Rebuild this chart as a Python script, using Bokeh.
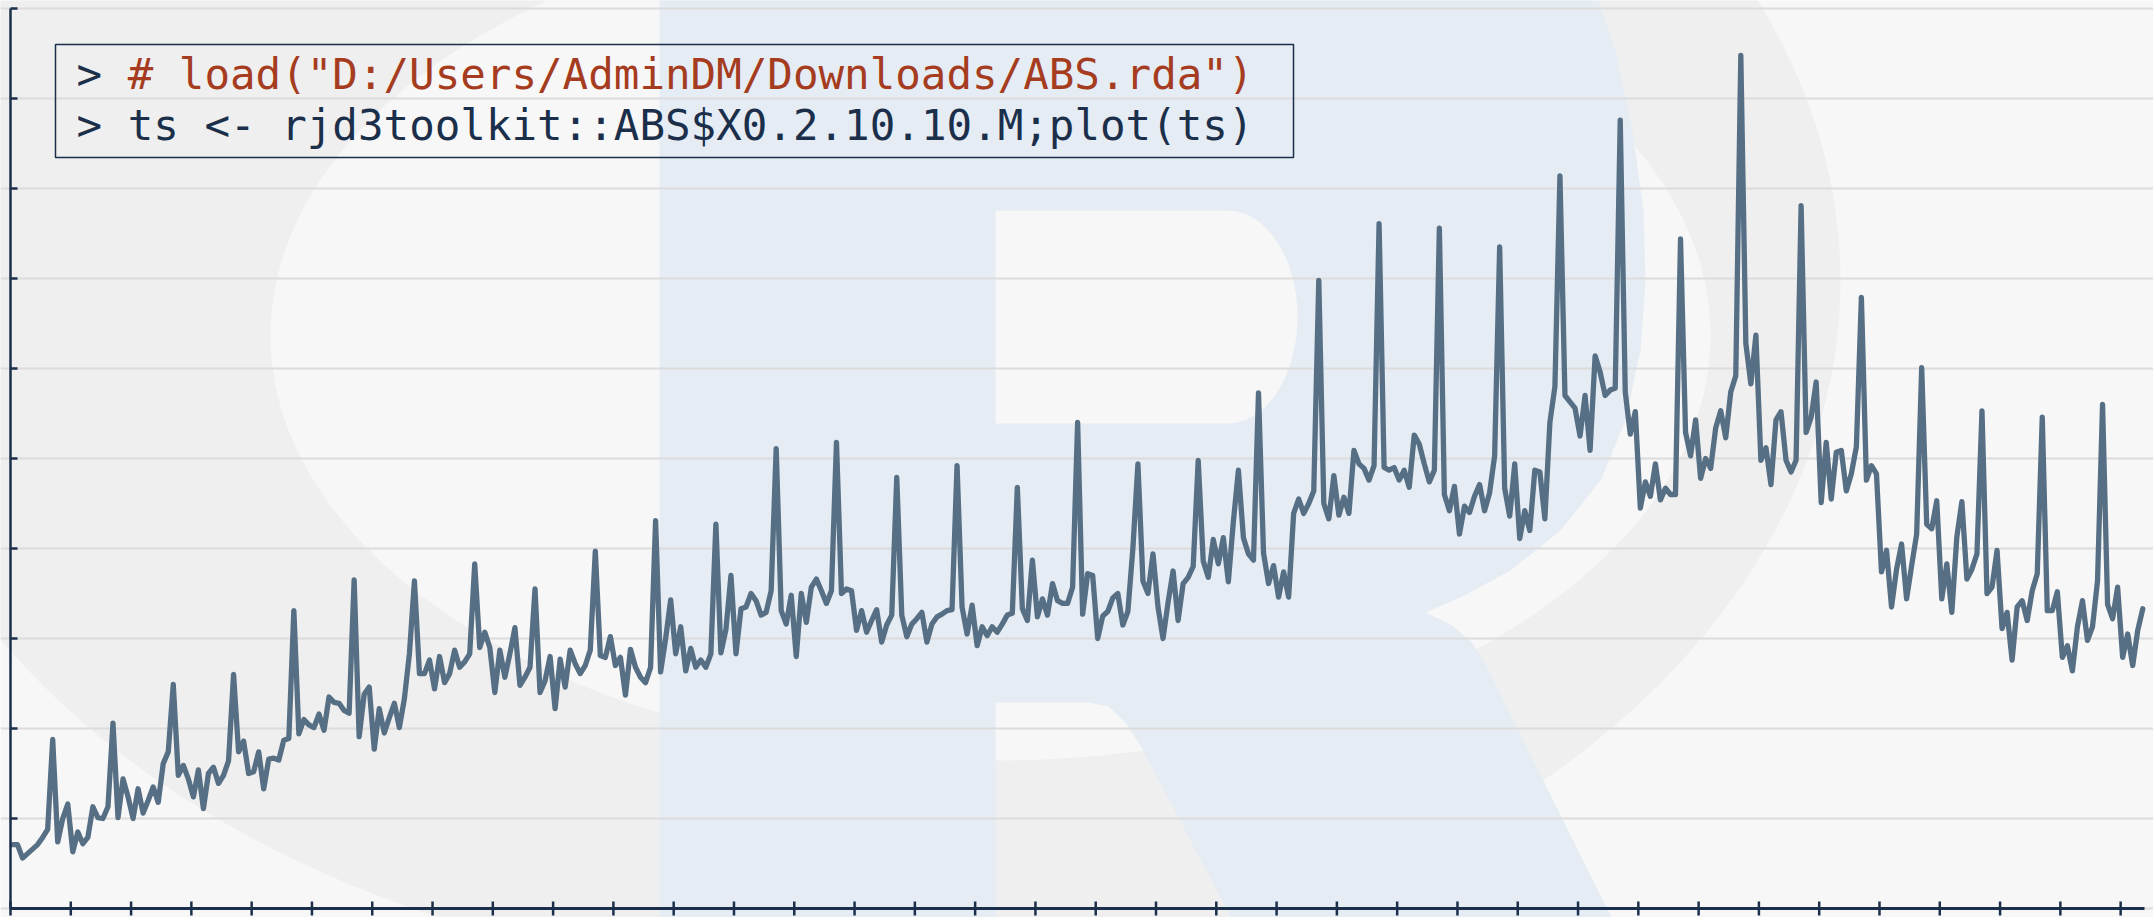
import numpy as np
from bokeh.plotting import figure
from bokeh.models import Range1d, FixedTicker
from bokeh.embed import file_html
from bokeh.resources import INLINE
from bokeh.core.properties import value

# ---------------- data (monthly, from April 1982) ----------------
start_year = 1982
start_month = 4
v1982 = [71, 71, 56, 61, 66, 71, 79, 88, 188]
v1983 = [74, 100, 116, 63, 85, 72, 79, 113, 101, 100, 113, 206]
v1984 = [101, 144, 124, 100, 133, 106, 120, 135, 118, 161, 174, 249]
v1985 = [148, 159, 144, 124, 154, 111, 150, 157, 139, 148, 164, 260]
v1986 = [174, 186, 150, 152, 174, 133, 166, 167, 165, 187, 189, 331]
v1987 = [194, 210, 204, 201, 216, 198, 235, 229, 228, 220, 217, 365]
v1988 = [191, 238, 246, 177, 222, 195, 212, 228, 201, 233, 283, 364]
v1989 = [261, 261, 276, 244, 280, 251, 261, 287, 268, 274, 283, 383]
v1990 = [290, 307, 290, 240, 287, 257, 283, 312, 248, 257, 268, 355]
v1991 = [240, 253, 280, 222, 277, 246, 287, 272, 261, 270, 287, 397]
v1992 = [281, 279, 302, 270, 279, 237, 288, 268, 257, 251, 268, 431]
v1993 = [263, 300, 343, 283, 313, 264, 289, 268, 276, 268, 283, 427]
v1994 = [284, 310, 370, 283, 333, 335, 350, 342, 326, 329, 353, 511]
v1995 = [331, 316, 348, 280, 350, 318, 357, 366, 353, 339, 353, 518]
v1996 = [350, 355, 353, 309, 331, 307, 320, 332, 296, 315, 326, 479]
v1997 = [326, 302, 316, 322, 329, 296, 316, 324, 327, 331, 332, 492]
v1998 = [335, 305, 337, 292, 313, 303, 313, 307, 316, 326, 328, 468]
v1999 = [333, 320, 387, 324, 344, 326, 361, 342, 339, 339, 357, 540]
v2000 = [327, 372, 370, 300, 325, 330, 345, 350, 315, 330, 400, 494]
v2001 = [364, 350, 394, 335, 300, 340, 375, 320, 361, 368, 380, 498]
v2002 = [386, 368, 410, 383, 412, 363, 430, 487, 412, 394, 387, 573]
v2003 = [395, 361, 381, 346, 374, 346, 439, 455, 439, 450, 464, 698]
v2004 = [450, 433, 481, 437, 457, 439, 509, 494, 489, 476, 492, 761]
v2005 = [490, 487, 490, 476, 487, 468, 526, 516, 494, 474, 487, 756]
v2006 = [460, 442, 469, 416, 447, 440, 458, 471, 442, 462, 503, 735]
v2007 = [467, 436, 494, 411, 442, 420, 487, 485, 433, 540, 580, 814]
v2008 = [570, 563, 556, 525, 570, 509, 614, 596, 570, 576, 578, 876]
v2009 = [574, 527, 552, 445, 474, 458, 494, 454, 467, 460, 460, 744]
v2010 = [529, 503, 543, 478, 500, 489, 534, 553, 523, 574, 592, 948]
v2011 = [628, 583, 637, 498, 512, 471, 543, 552, 498, 485, 498, 781]
v2012 = [529, 546, 585, 451, 518, 455, 507, 509, 464, 483, 513, 679]
v2013 = [476, 492, 483, 374, 398, 335, 377, 405, 344, 381, 416, 601]
v2014 = [427, 422, 453, 344, 383, 329, 413, 452, 366, 377, 394, 553]
v2015 = [350, 357, 398, 311, 329, 276, 335, 342, 320, 353, 372, 546]
v2016 = [331, 331, 352, 279, 292, 264, 313, 342, 298, 313, 364, 560]
v2017 = [338, 322, 357, 279, 305, 270, 309, 333]

years = [v1982, v1983, v1984, v1985, v1986, v1987, v1988, v1989, v1990,
         v1991, v1992, v1993, v1994, v1995, v1996, v1997, v1998, v1999,
         v2000, v2001, v2002, v2003, v2004, v2005, v2006, v2007, v2008,
         v2009, v2010, v2011, v2012, v2013, v2014, v2015, v2016, v2017]
values = [v for y in years for v in y]
t = [start_year + (start_month - 1) / 12 + i / 12 for i in range(len(values))]

y_ticks = list(range(0, 1001, 100))
n_x_ticks = 36
code_line1_prompt = ">"
code_line1_comment = '# load("D:/Users/AdminDM/Downloads/ABS.rda")'
code_line2 = "> ts <- rjd3toolkit::ABS$X0.2.10.10.M;plot(ts)"

# ---------------- styling ----------------
NAVY = "#1b2f4b"
RED = "#a53c20"
LINE = "#566f84"
BG = "#f7f7f7"
RING = "#efefef"
BLUE = "#e5ecf4"
GRID = "#dcdcdc"

# layout (page pixels): plot origin at (10, 908), 60.29 px per year, 0.9 px per unit
ppy = 60.29
ppu = 0.9
ox_px, oy_px = 10, 908
ax_x = t[0] - 2 / ppy            # time at the y axis
W, H = 2153, 917
xr = Range1d(ax_x - ox_px / ppy, ax_x + (W - ox_px) / ppy)
yr = Range1d(-(H - oy_px) / ppu, oy_px / ppu)
x_end = ax_x + (2144 - ox_px) / ppy

p = figure(width=W, height=H, output_backend="svg", toolbar_location=None,
           x_range=xr, y_range=yr, min_border=0)
p.background_fill_color = BG
p.border_fill_color = BG
p.outline_line_color = None
p.xaxis.visible = False
p.yaxis.visible = False
p.xgrid.visible = False
p.ygrid.ticker = FixedTicker(ticks=y_ticks)
p.ygrid.grid_line_color = GRID
p.ygrid.grid_line_width = 2

# pixel-space ranges (page coords) for the watermark and the code box
p.extra_x_ranges = {"px": Range1d(0, W)}
p.extra_y_ranges = {"py": Range1d(H, 0)}

def ell(cx, cy, a, b, n=240):
    th = np.linspace(0, 2 * np.pi, n)
    return list(cx + a * np.cos(th)), list(cy + b * np.sin(th))

oxs, oys = ell(850, 280, 990, 700)
ixs, iys = ell(990, 335, 720, 425)
bg_kw = dict(line_color=None, x_range_name="px", y_range_name="py", level="image")
p.patch(oxs, oys, fill_color=RING, **bg_kw)
p.patch(ixs, iys, fill_color=BG, **bg_kw)

R_outer = [(659, -30), (1560, -30), (1598, 0), (1615, 50), (1632, 130), (1643, 210), (1645, 280),
           (1640, 350), (1625, 420), (1600, 480), (1560, 530), (1510, 570), (1460, 597), (1425, 612),
           (1452, 625), (1472, 643), (1484, 662), (1620, 935), (1240, 935), (1140, 745), (1125, 722),
           (1108, 706), (1088, 702), (995, 702), (995, 935), (659, 935)]
p.patch([a for a, b in R_outer], [b for a, b in R_outer], fill_color=BLUE, **bg_kw)
th = np.linspace(-np.pi / 2, np.pi / 2, 60)
hx = [995, 1227] + list(1227 + 70 * np.cos(th)) + [1227, 995]
hy = [210, 210] + list(316.5 + 106.5 * np.sin(th)) + [423, 423]
p.patch(hx, hy, fill_color=BG, **bg_kw)

# series
p.line(t, values, line_color=LINE, line_width=5.3, line_join="round", line_cap="round")

# hand-drawn axes (no labels in the reference)
x_ticks = [ax_x + k for k in range(n_x_ticks)]
p.segment(x0=x_ticks, y0=[-7 / ppu] * n_x_ticks, x1=x_ticks, y1=[7 / ppu] * n_x_ticks,
          line_color=NAVY, line_width=2.5)
p.segment(x0=[ax_x] * len(y_ticks), y0=y_ticks, x1=[ax_x + 7 / ppy] * len(y_ticks), y1=y_ticks,
          line_color=NAVY, line_width=2.5)
p.segment(x0=[ax_x], y0=[0], x1=[x_end], y1=[0], line_color=NAVY, line_width=3)
p.segment(x0=[ax_x], y0=[0], x1=[ax_x], y1=[1000], line_color=NAVY, line_width=2.5)

# code box
p.quad(left=[55], right=[1293], top=[44], bottom=[157], fill_alpha=0, line_color=NAVY,
       line_width=1.5, x_range_name="px", y_range_name="py")
font = value("DejaVu Sans Mono")
adv = 25.57
txt_kw = dict(text_font=font, text_font_size="42.5px", text_baseline="alphabetic",
              x_range_name="px", y_range_name="py")
p.text(x=[76], y=[74], text=[code_line1_prompt], text_color=NAVY, **txt_kw)
p.text(x=[76 + 2 * adv], y=[74], text=[code_line1_comment], text_color=RED, **txt_kw)
p.text(x=[76], y=[125], text=[code_line2], text_color=NAVY, **txt_kw)

open("out.html", "w").write(file_html(p, INLINE))
